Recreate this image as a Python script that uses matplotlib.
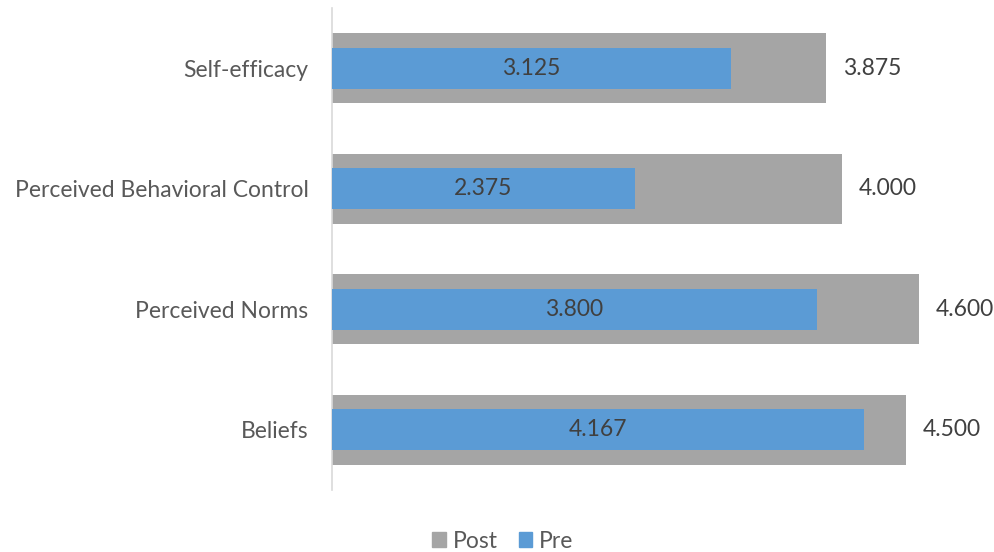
import matplotlib
matplotlib.use('Agg')
import matplotlib.pyplot as plt
from matplotlib.patches import Patch

categories = ['Beliefs', 'Perceived Norms', 'Perceived Behavioral Control', 'Self-efficacy']
post = [4.500, 4.600, 4.000, 3.875]
pre = [4.167, 3.800, 2.375, 3.125]

GRAY = '#A5A5A5'
BLUE = '#5B9BD5'
TXT = '#595959'
FS = 16.5

plt.rcParams['font.family'] = ['Lato', 'DejaVu Sans']

fig = plt.figure(figsize=(9.95, 5.52), dpi=100)
ax = fig.add_axes([332 / 995, 1 - 490 / 552, 638 / 995, 482 / 552])

ypos = list(range(len(categories)))
ax.barh(ypos, post, height=0.58, color=GRAY, zorder=2)
ax.barh(ypos, pre, height=0.34, color=BLUE, zorder=3)

for y, v in zip(ypos, post):
    ax.annotate('%.3f' % v, (v, y), xytext=(12, 0), textcoords='offset points',
                va='center', ha='left', fontsize=FS, color='#404040')
for y, v in zip(ypos, pre):
    ax.text(v / 2, y, '%.3f' % v, va='center', ha='center', fontsize=FS,
            color='#404040', zorder=4)

ax.set_xlim(0, 5)
ax.set_ylim(-0.5, len(categories) - 0.5)
ax.set_yticks(ypos)
ax.set_yticklabels(categories, fontsize=FS, color=TXT)
ax.tick_params(axis='y', length=0, pad=17)
ax.set_xticks([])
for s in ['top', 'right', 'bottom']:
    ax.spines[s].set_visible(False)
ax.spines['left'].set_color('#D9D9D9')
ax.spines['left'].set_linewidth(1.2)

handles = [Patch(color=GRAY, label='Post'), Patch(color=BLUE, label='Pre')]
fig.legend(handles=handles, loc='center', bbox_to_anchor=(503 / 995, 1 - 541 / 552),
           ncol=2, frameon=False, fontsize=FS, labelcolor=TXT,
           handlelength=0.6, handleheight=0.6, handletextpad=0.3, columnspacing=0.9)

fig.savefig('out.png', dpi=100)
